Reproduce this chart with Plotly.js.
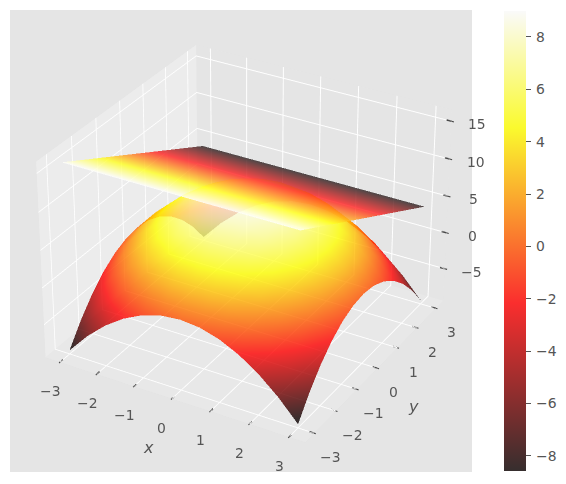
<!DOCTYPE html>
<html><head><meta charset="utf-8">
<script src="https://cdn.plot.ly/plotly-3.0.1.min.js"></script>
<style>html,body{margin:0;padding:0;background:#fff;overflow:hidden;width:566px;height:484px}
#back,#chart{position:absolute}
#back{left:0;top:0;width:566px;height:484px}
</style></head>
<body><div id="back"></div><div id="chart"></div>
<script>
const domeX = [-3,-2.5,-2,-1.5,-1,-0.5,0,0.5,1,1.5,2,2.5,3];
const domeY = [-3,-2.5,-2,-1.5,-1,-0.5,0,0.5,1,1.5,2,2.5,3];
const domeZ = [
[-9,-6.25,-4,-2.25,-1,-0.25,0,-0.25,-1,-2.25,-4,-6.25,-9],
[-6.25,-3.5,-1.25,0.5,1.75,2.5,2.75,2.5,1.75,0.5,-1.25,-3.5,-6.25],
[-4,-1.25,1,2.75,4,4.75,5,4.75,4,2.75,1,-1.25,-4],
[-2.25,0.5,2.75,4.5,5.75,6.5,6.75,6.5,5.75,4.5,2.75,0.5,-2.25],
[-1,1.75,4,5.75,7,7.75,8,7.75,7,5.75,4,1.75,-1],
[-0.25,2.5,4.75,6.5,7.75,8.5,8.75,8.5,7.75,6.5,4.75,2.5,-0.25],
[0,2.75,5,6.75,8,8.75,9,8.75,8,6.75,5,2.75,0],
[-0.25,2.5,4.75,6.5,7.75,8.5,8.75,8.5,7.75,6.5,4.75,2.5,-0.25],
[-1,1.75,4,5.75,7,7.75,8,7.75,7,5.75,4,1.75,-1],
[-2.25,0.5,2.75,4.5,5.75,6.5,6.75,6.5,5.75,4.5,2.75,0.5,-2.25],
[-4,-1.25,1,2.75,4,4.75,5,4.75,4,2.75,1,-1.25,-4],
[-6.25,-3.5,-1.25,0.5,1.75,2.5,2.75,2.5,1.75,0.5,-1.25,-3.5,-6.25],
[-9,-6.25,-4,-2.25,-1,-0.25,0,-0.25,-1,-2.25,-4,-6.25,-9]];
const planeX = [-3,-1.5,0,1.5,3];
const planeY = [-3,-1.5,0,1.5,3];
const planeZ = [
[16,16,16,16,16],
[13,13,13,13,13],
[10,10,10,10,10],
[7,7,7,7,7],
[4,4,4,4,4]];
const xTicks = [-3,-2,-1,0,1,2,3];
const yTicks = [-3,-2,-1,0,1,2,3];
const zTicks = [-5,0,5,10,15];
const cbTicks = [-8,-6,-4,-2,0,2,4,6,8];
const hot = [[0,'rgb(11,0,0)'],[0.365,'rgb(255,0,0)'],[0.746,'rgb(255,255,0)'],[1,'rgb(255,255,255)']];
const hotMeshed = [[0,'rgb(42,31,31)'],[0.365,'rgb(255,31,31)'],[0.746,'rgb(255,255,31)'],[1,'rgb(255,255,255)']];
const hotOnGrey = [[0,'rgb(54,46,46)'],[0.365,'rgb(250,46,46)'],[0.746,'rgb(250,250,46)'],[1,'rgb(250,250,250)']];
const ink = '#4a4a4a';
const textInk = '#555555';
const lit = {ambient:1,diffuse:0,specular:0,roughness:1,fresnel:0};
const flat = {x:{highlight:false},y:{highlight:false},z:{highlight:false}};
const font = {family:'DejaVu Sans',size:13.9,color:textInk};
const minus = v => String(v).replace('-','\u2212');
const xLim=[-3.4,3.4], yLim=[-3.4,3.4], zLim=[-9.5,16.5];
function axis(ticks,bg,range){return {
  title:{text:''},range:range,tickmode:'array',tickvals:ticks,showticklabels:false,ticks:'',
  gridcolor:'#ffffff',gridwidth:2,showgrid:true,zeroline:false,showline:false,
  showbackground:true,backgroundcolor:bg,showspikes:false};}
function label(x,y,z,text,dx,dy,f){return {x,y,z,text,showarrow:false,xshift:dx,yshift:-dy,font:f||font,xanchor:'center',yanchor:'middle'};}
function outerTick(x,y,z,ax,ay){return {x,y,z,text:'',showarrow:true,arrowhead:0,arrowwidth:1.1,arrowcolor:ink,standoff:0,startstandoff:0,ax,ay};}
const annots = [
 ...xTicks.map(v=>label(v,yLim[0],zLim[0],minus(v),-10,29)),
 ...yTicks.map(v=>label(xLim[1],v,zLim[0],minus(v),16,24)),
 ...zTicks.map(v=>label(xLim[1],yLim[1],v,minus(v),26,3)),
 ...xTicks.map(v=>outerTick(v,yLim[0],zLim[0],-2.5,2.1)),
 ...yTicks.map(v=>outerTick(xLim[1],v,zLim[0],3.3,1)),
 ...zTicks.map(v=>outerTick(xLim[1],yLim[1],v,4,1)),
 label(0,yLim[0],zLim[0],'<i>x</i>',-23,49,{family:'DejaVu Sans',size:16,color:textInk}),
 label(xLim[1],0,zLim[0],'<i>y</i>',36,38,{family:'DejaVu Sans',size:16,color:textInk})
];
function seg(pts){const o={x:[],y:[],z:[]};pts.forEach(p=>{o.x.push(p[0],p[3],null);o.y.push(p[1],p[4],null);o.z.push(p[2],p[5],null);});return o;}
const t=0.12;
const tickLines = seg([
 ...xTicks.map(v=>[v,yLim[0],zLim[0],v,yLim[0]+t,zLim[0]]),
 ...yTicks.map(v=>[xLim[1]-t,v,zLim[0],xLim[1],v,zLim[0]]),
 ...zTicks.map(v=>[xLim[1]-t,yLim[1],v,xLim[1],yLim[1],v])
]);
const S = 2070, r = 8.4, ox = 248, oy = 234;
const chart = document.getElementById('chart');
chart.style.left=(ox-S/2)+'px'; chart.style.top=(oy-S/2)+'px'; chart.style.width=S+'px'; chart.style.height=S+'px';
const data = [
 {type:'surface',x:domeX,y:domeY,z:domeZ,colorscale:hot,cmin:-8.58,cmax:8.99,opacity:0.8,showscale:false,lighting:lit,hoverinfo:'skip',contours:flat},
 {type:'surface',x:planeX,y:planeY,z:planeZ,colorscale:hotMeshed,cmin:4,cmax:16,opacity:0.8,showscale:false,lighting:lit,hoverinfo:'skip',contours:flat},
 {type:'scatter3d',mode:'lines',x:tickLines.x,y:tickLines.y,z:tickLines.z,line:{color:ink,width:3},hoverinfo:'skip',showlegend:false}
];
const layout = {width:S,height:S,margin:{l:0,r:0,t:0,b:0},paper_bgcolor:'rgba(0,0,0,0)',showlegend:false,
 scene:{domain:{x:[0,1],y:[0,1]},bgcolor:'rgba(0,0,0,0)',
  aspectmode:'manual',aspectratio:{x:1,y:1,z:0.75},annotations:annots,
  camera:{eye:{x:0.433*r,y:-0.75*r,z:0.5*r},up:{x:0,y:0,z:1},center:{x:0,y:0,z:0},projection:{type:'perspective'}},
  xaxis:axis(xTicks,'#ECECEC',xLim),
  yaxis:axis(yTicks,'#E5E5E5',yLim),
  zaxis:axis(zTicks,'#E8E8E8',zLim)}};
const backData=[{type:'scatter',mode:'markers',x:[0],y:[0],hoverinfo:'skip',showlegend:false,
  marker:{size:1,opacity:0,color:[0],cmin:-8.58,cmax:8.99,colorscale:hotOnGrey,showscale:true,
   colorbar:{x:504/566,xanchor:'left',y:1-11/484,yanchor:'top',len:460/484,lenmode:'fraction',thickness:22,thicknessmode:'pixels',
    tickmode:'array',tickvals:cbTicks,ticktext:cbTicks.map(v=>'\u2009'+minus(v)),
    ticks:'outside',ticklen:5,tickcolor:textInk,tickfont:font,outlinecolor:'#777777',outlinewidth:0,xpad:0,ypad:0}}}];
const backLayout={width:566,height:484,margin:{l:0,r:0,t:0,b:0},paper_bgcolor:'#ffffff',plot_bgcolor:'rgba(0,0,0,0)',showlegend:false,
 xaxis:{visible:false},yaxis:{visible:false},
 shapes:[{type:'rect',xref:'paper',yref:'paper',x0:10/566,x1:472/566,y0:12/484,y1:474/484,fillcolor:'#E5E5E5',line:{width:0},layer:'below'}]};
Plotly.newPlot('back',backData,backLayout,{displayModeBar:false,staticPlot:true});
Plotly.newPlot('chart',data,layout,{displayModeBar:false});
</script></body></html>
